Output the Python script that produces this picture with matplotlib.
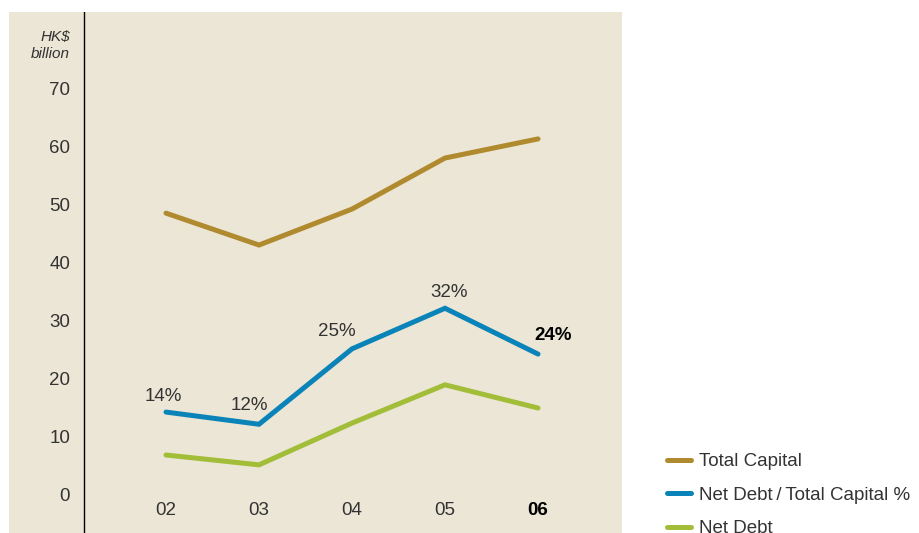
import matplotlib
matplotlib.use("Agg")
from matplotlib import pyplot as plt

years = ["02", "03", "04", "05", "06"]
total_capital = [48.6, 43.1, 49.3, 58.1, 61.4]
gearing_pct = [14.3, 12.2, 25.2, 32.2, 24.3]
net_debt = [6.9, 5.2, 12.4, 19.0, 15.0]
pct_labels = ["14%", "12%", "25%", "32%", "24%"]
yticks = [0, 10, 20, 30, 40, 50, 60, 70]

plt.rcParams['font.family'] = ['Liberation Sans', 'DejaVu Sans']

bg = '#ECE6D6'
c_total = '#B08A2E'
c_blue = '#0A84B8'
c_green = '#A2BD37'
txt = '#333333'

fig = plt.figure(figsize=(9.2, 5.33), dpi=100)
ax = fig.add_axes([9 / 920, 0, (622 - 9) / 920, (533 - 12) / 533])
ax.set_facecolor(bg)
for s in ax.spines.values():
    s.set_visible(False)
ax.set_xticks([])
ax.set_yticks([])
ax.set_xlim(-1.688, 4.903)
ax.set_ylim(-6.55, 83.28)

ax.axvline(-0.882, color='black', lw=1.0)

x = list(range(len(years)))
lw = 3.6
ax.plot(x, total_capital, color=c_total, lw=lw, solid_capstyle='round', solid_joinstyle='miter', label='Total Capital')
ax.plot(x, gearing_pct, color=c_blue, lw=lw, solid_capstyle='round', solid_joinstyle='miter', label='Net Debt\u2009/\u2009Total Capital %')
ax.plot(x, net_debt, color=c_green, lw=lw, solid_capstyle='round', solid_joinstyle='miter', label='Net Debt')

for v in yticks:
    ax.text(-1.03, v - 0.3, str(v), ha='right', va='center', fontsize=13.5, color=txt)
for i, y in enumerate(years):
    bold = i == len(years) - 1
    ax.text(i, -2.75, y, ha='center', va='center', fontsize=13.5, color='black' if bold else txt,
            fontweight='bold' if bold else 'normal')

ax.text(-1.03, 79.0, "HK$", ha='right', va='center', fontsize=11, style='italic', color=txt)
ax.text(-1.03, 76.0, "billion", ha='right', va='center', fontsize=11, style='italic', color=txt)

# percentage labels: (dx, dy) offsets in data units
offs = [(-0.03, 2.6), (-0.1, 3.2), (-0.16, 3.0), (0.04, 2.7), (0.16, 3.2)]
for i, (lab, (dx, dy)) in enumerate(zip(pct_labels, offs)):
    bold = i == len(pct_labels) - 1
    ax.text(i + dx, gearing_pct[i] + dy, lab, ha='center', va='center', fontsize=13.5,
            color='black' if bold else txt, fontweight='bold' if bold else 'normal')

handles, labels = ax.get_legend_handles_labels()
leg = fig.legend(handles, labels, loc='upper left', bbox_to_anchor=(667 / 920, 1 - 453 / 533),
                 frameon=False, fontsize=13.5, handlelength=1.3, handletextpad=0.43,
                 labelspacing=0.88, borderpad=0, borderaxespad=0)
for t in leg.get_texts():
    t.set_color(txt)

fig.savefig('out.png', dpi=100)
